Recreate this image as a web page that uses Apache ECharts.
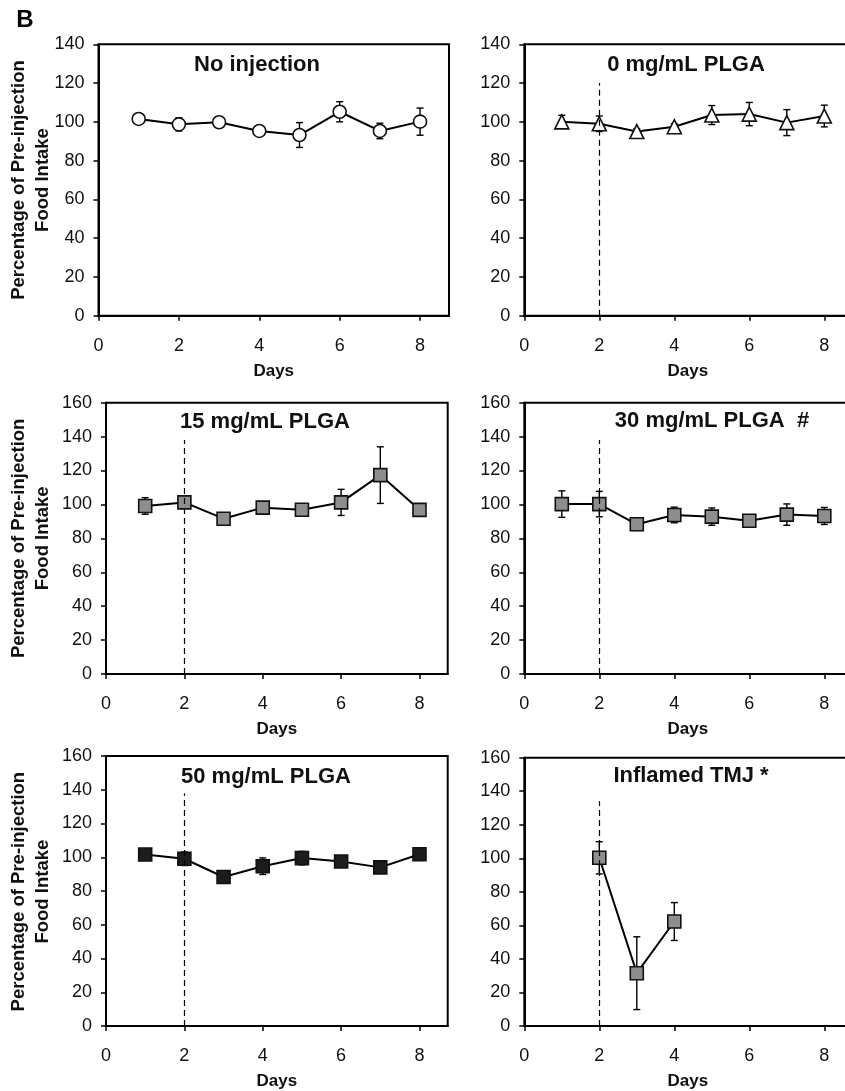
<!DOCTYPE html>
<html>
<head>
<meta charset="utf-8">
<script src="https://cdn.jsdelivr.net/npm/echarts@6/dist/echarts.min.js"></script>
<style>
html,body{margin:0;padding:0;background:#fff;overflow:hidden;}
#chart{width:870px;height:1091px;}
</style>
</head>
<body>
<div id="chart"></div>
<script>
// ---------- data ----------
const days = [1, 2, 3, 4, 5, 6, 7, 8];
const xTickValues = [0, 2, 4, 6, 8];

const noInjMean = [101.5, 98.7, 99.8, 95.3, 93.2, 105.2, 95.3, 100.1];
const noInjErr  = [2, 3.4, 2, 1.5, 6.4, 5.2, 4, 7];

const plga0Mean = [100, 99, 95, 97.5, 103.5, 104, 99.6, 103];
const plga0Err  = [3.4, 4, 1.5, 1.5, 4.9, 6, 6.7, 5.6];

const plga15Mean = [99.1, 101.2, 91.6, 98.1, 96.9, 101.2, 117.3, 96.8];
const plga15Err  = [4.9, 3.5, 1.5, 1.5, 1.5, 7.7, 16.7, 3];

const plga30Mean = [100.2, 100.2, 88.3, 93.8, 92.8, 90.4, 94, 93.2];
const plga30Err  = [7.8, 7.5, 3.6, 4.6, 5.1, 2, 6.3, 5];

const plga50Mean = [101.6, 99.1, 88.3, 94.7, 99.5, 97.5, 94, 101.8];
const plga50Err  = [3, 4, 2, 4.9, 4, 2.5, 2, 2];

const tmjDays = [2, 3, 4];
const tmjMean = [100.3, 31.5, 62.3];
const tmjErr  = [9.6, 21.7, 11.3];

const panelTitles = ['No injection', '0 mg/mL PLGA', '15 mg/mL PLGA', '30 mg/mL PLGA  #', '50 mg/mL PLGA', 'Inflamed TMJ *'];
const injectionDay = 2;
const dashTops = [null, 120, 138, 138, 138, 134];
const yMaxes = [140, 140, 160, 160, 160, 160];
const xMax = 8.72;

// ---------- layout ----------
const grids = [
  {left: 98.5, top: 44.3, width: 350.5, height: 271.4},
  {left: 524.3, top: 44.3, width: 327, height: 271.4},
  {left: 106, top: 402.7, width: 341.7, height: 271.3},
  {left: 524.3, top: 402.7, width: 327, height: 271.3},
  {left: 106, top: 756, width: 341.7, height: 271.3},
  {left: 524.3, top: 757.7, width: 327, height: 271.3}
];
const titlePos = [[257, 65], [686, 65], [265, 421.5], [712, 421], [266, 776.5], [691, 776]];

const panels = [
  {x: days, m: noInjMean, e: noInjErr, symbol: 'circle', size: 13, fill: '#ffffff'},
  {x: days, m: plga0Mean, e: plga0Err, symbol: 'triangle', size: 14, fill: '#ffffff'},
  {x: days, m: plga15Mean, e: plga15Err, symbol: 'rect', size: 13, fill: '#8e8e8e'},
  {x: days, m: plga30Mean, e: plga30Err, symbol: 'rect', size: 13, fill: '#8e8e8e'},
  {x: days, m: plga50Mean, e: plga50Err, symbol: 'rect', size: 13, fill: '#1c1c1c'},
  {x: tmjDays, m: tmjMean, e: tmjErr, symbol: 'rect', size: 13, fill: '#8e8e8e'}
];

const FONT = '"Liberation Sans", Arial, sans-serif';

const chart = echarts.init(document.getElementById('chart'), null, {renderer: 'canvas'});

const option = {
  backgroundColor: '#ffffff',
  animation: false,
  grid: [], xAxis: [], yAxis: [], series: [], graphic: []
};

function errRender(params, api) {
  const x = api.value(0), lo = api.value(1), hi = api.value(2);
  const pLo = api.coord([x, lo]);
  const pHi = api.coord([x, hi]);
  const cap = 3.5;
  const st = {stroke: '#000', lineWidth: 1.4};
  return {
    type: 'group',
    children: [
      {type: 'line', shape: {x1: pLo[0], y1: pLo[1], x2: pHi[0], y2: pHi[1]}, style: st},
      {type: 'line', shape: {x1: pLo[0] - cap, y1: pLo[1], x2: pLo[0] + cap, y2: pLo[1]}, style: st},
      {type: 'line', shape: {x1: pHi[0] - cap, y1: pHi[1], x2: pHi[0] + cap, y2: pHi[1]}, style: st}
    ]
  };
}

panels.forEach(function (p, i) {
  const g = grids[i];
  option.grid.push({
    left: g.left, top: g.top, width: g.width, height: g.height,
    show: true, borderColor: '#000', borderWidth: 2, backgroundColor: 'transparent',
    containLabel: false
  });
  option.xAxis.push({
    type: 'value', gridIndex: i, min: 0, max: xMax, interval: 2,
    name: 'Days', nameLocation: 'middle', nameGap: 47,
    nameTextStyle: {fontFamily: FONT, fontWeight: 'bold', fontSize: 17, color: '#111'},
    axisLine: {show: true, onZero: false, lineStyle: {color: '#000', width: 2}},
    axisTick: {show: true, inside: false, length: 5, lineStyle: {color: '#000', width: 1.5}, customValues: xTickValues},
    axisLabel: {show: true, margin: 21, fontFamily: FONT, fontSize: 18, color: '#111', customValues: xTickValues},
    splitLine: {show: false}
  });
  option.yAxis.push({
    type: 'value', gridIndex: i, min: 0, max: yMaxes[i], interval: 20,
    axisLine: {show: true, onZero: false, lineStyle: {color: '#000', width: 2}},
    axisTick: {show: true, inside: false, length: 5, lineStyle: {color: '#000', width: 1.5}},
    axisLabel: {show: true, margin: 14, fontFamily: FONT, fontSize: 18, color: '#111'},
    splitLine: {show: false}
  });

  const errData = p.x.map(function (d, k) { return [d, p.m[k] - p.e[k], p.m[k] + p.e[k]]; });
  option.series.push({
    type: 'custom', xAxisIndex: i, yAxisIndex: i, z: 2,
    renderItem: errRender, data: errData, silent: true
  });

  const lineSeries = {
    type: 'line', xAxisIndex: i, yAxisIndex: i, z: 3,
    data: p.x.map(function (d, k) { return [d, p.m[k]]; }),
    symbol: p.symbol, symbolSize: p.size,
    showAllSymbol: true,
    lineStyle: {color: '#000', width: 2},
    itemStyle: {color: p.fill, borderColor: '#111', borderWidth: 1.6},
    silent: true
  };
  if (dashTops[i] !== null) {
    lineSeries.markLine = {
      symbol: 'none', silent: true, animation: false,
      label: {show: false},
      lineStyle: {type: [6, 4], color: '#000', width: 1.2},
      data: [[{coord: [injectionDay, 0]}, {coord: [injectionDay, dashTops[i]]}]]
    };
  }
  option.series.push(lineSeries);

  option.graphic.push({
    type: 'text', x: titlePos[i][0], y: titlePos[i][1], z: 10,
    style: {text: panelTitles[i], align: 'center', verticalAlign: 'middle',
            font: 'bold 22px ' + FONT, fill: '#111'}
  });

  if (i % 2 === 0) {
    option.graphic.push({
      type: 'text', x: 31, y: g.top + g.height / 2, rotation: Math.PI / 2, z: 10,
      style: {text: 'Percentage of Pre-injection\nFood Intake', align: 'center', verticalAlign: 'middle',
              font: 'bold 18.5px ' + FONT, lineHeight: 24, fill: '#111'}
    });
  }
});

option.graphic.push({
  type: 'text', x: 25, y: 20, z: 10,
  style: {text: 'B', align: 'center', verticalAlign: 'middle', font: 'bold 24px ' + FONT, fill: '#000'}
});

chart.setOption(option);
</script>
</body>
</html>
